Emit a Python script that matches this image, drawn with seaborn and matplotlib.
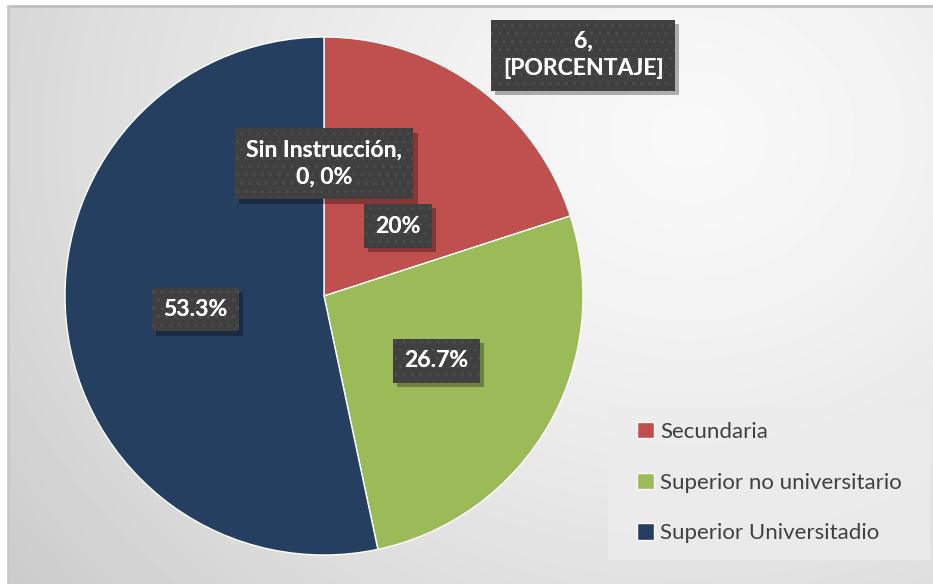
import numpy as np
import seaborn as sns
import matplotlib.pyplot as plt
import matplotlib.patheffects as pe
from matplotlib.lines import Line2D
from matplotlib.patches import Rectangle

categorias = ['Sin Instrucción', 'Secundaria', 'Superior no universitario', 'Superior Universitadio']
valores = [0, 6, 8, 16]
colores = ['#4F81BD', '#C0504D', '#9BBB59', '#243F60']
legend_cats = ['Secundaria', 'Superior no universitario', 'Superior Universitadio']

sns.set_theme(style="white")
plt.rcParams['font.family'] = ['Lato', 'DejaVu Sans']
plt.rcParams['hatch.color'] = '#4d4d4d'

W, H = 933, 584
fig = plt.figure(figsize=(W / 100, H / 100), dpi=100)
fig.patch.set_facecolor('white')

# background gradient of chart area
bg = fig.add_axes([8 / W, 0, (W - 8) / W, (H - 6) / H])
yy, xx = np.mgrid[0:578, 0:925]
d = np.sqrt((xx - 680) ** 2 + ((yy - 130) / 0.85) ** 2)
t = np.clip(d / 900, 0, 1.2) ** 1.4
shade = 0.975 - 0.19 * t
bg.imshow(shade, cmap='gray', vmin=0, vmax=1, aspect='auto', interpolation='bilinear')
bg.set_axis_off()
fig.add_artist(Line2D([8 / W, 1], [1 - 6 / H, 1 - 6 / H], color='#c0c0c0', lw=2))
fig.add_artist(Line2D([8 / W, 8 / W], [0, 1 - 6 / H], color='#c8c8c8', lw=2))

# pie axes: center (324, 296), radius 259 px
cx, cy, r = 324, 296, 259
ax = fig.add_axes([(cx - r) / W, (H - cy - r) / H, 2 * r / W, 2 * r / H])
ax.set_facecolor('none')
wedges, _ = ax.pie(valores, colors=colores, startangle=90, counterclock=False,
                   wedgeprops=dict(linewidth=1, edgecolor='white'), radius=1.0)
ax.set_xlim(-1, 1)
ax.set_ylim(-1, 1)
ax.set_aspect('equal')
ax.set_axis_off()

total = sum(valores)


def label(x, y, s):
    kw = dict(ha='center', va='center', color='white', fontsize=16.5,
              fontweight='bold', linespacing=1.35, zorder=5)
    t = ax.text(x, y, s, bbox=dict(boxstyle='square,pad=0.5', facecolor='#404040',
                                   linewidth=0), **kw)
    t.get_bbox_patch().set_path_effects([pe.withSimplePatchShadow(
        offset=(3, -3), shadow_rgbFace='black', alpha=0.3)])
    ax.text(x, y, s, bbox=dict(boxstyle='square,pad=0.5', facecolor='none',
                               edgecolor='#4d4d4d', linewidth=0, hatch='..'), **kw)


angle = 90
for cat, v, w in zip(categorias, valores, wedges):
    pct = 100 * v / total
    mid = np.deg2rad(angle - 360 * v / total / 2)
    angle -= 360 * v / total
    if v == 0:
        label(0.5 * np.cos(mid), 0.5 * np.sin(mid) + 0.01, f'{cat},\n0, 0%')
        continue
    txt = f'{pct:.1f}%' if pct % 1 else f'{pct:.0f}%'
    if cat == 'Secundaria':
        label(0.285, 0.27, txt)
        label(1.0, 0.93, f'{v},\n[PORCENTAJE]')
    else:
        label(0.5 * np.cos(mid), 0.5 * np.sin(mid), txt)

# legend panel
fig.add_artist(Rectangle((608 / W, 1 - 560 / H), (930 - 608) / W, (560 - 407) / H,
                         transform=fig.transFigure, facecolor='#ececec', alpha=0.85,
                         linewidth=0, zorder=3))
handles = [wedges[categorias.index(c)] for c in legend_cats]
leg = fig.legend(handles, legend_cats, loc='upper left',
                 bbox_to_anchor=(637 / W, 1 - 422 / H), frameon=False,
                 fontsize=16, labelcolor='#404040',
                 handlelength=0.75, handleheight=0.75, handletextpad=0.3,
                 labelspacing=1.38, borderpad=0.0, borderaxespad=0)
leg.set_zorder(4)

fig.savefig('out.png', dpi=100)
